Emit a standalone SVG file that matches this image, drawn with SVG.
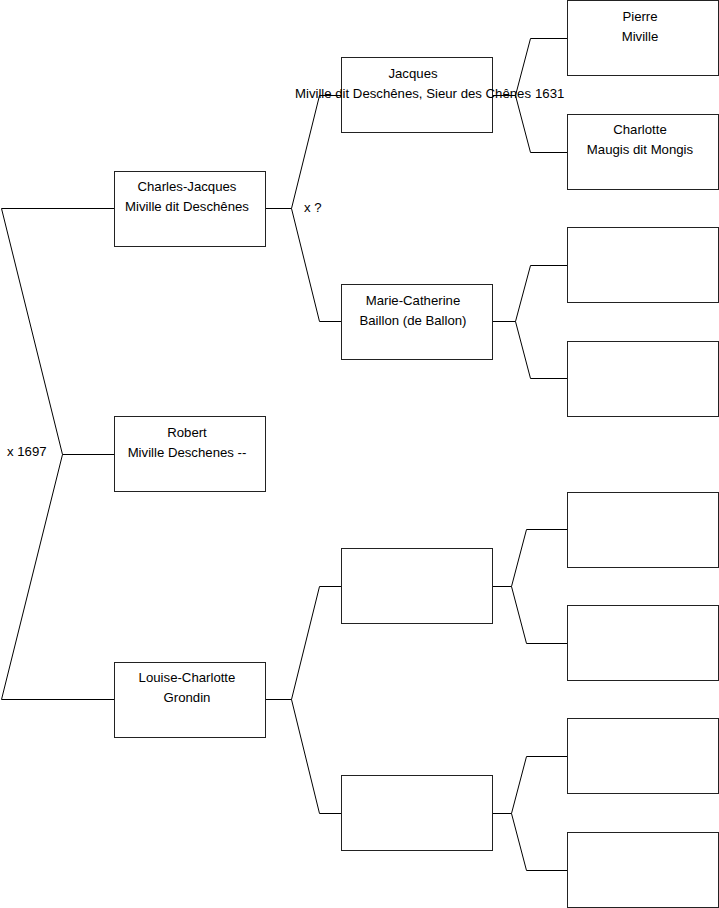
<svg xmlns="http://www.w3.org/2000/svg" width="719" height="908" viewBox="0 0 719 908">
<style>
.box{fill:#fff;stroke:#222;stroke-width:1}
.c{fill:none;stroke:#000;stroke-width:1}
text{font-family:"Liberation Sans",Arial,sans-serif;font-size:13.2px;fill:#000}
.m{text-anchor:middle}
</style>
<rect width="719" height="908" fill="#fff"/>
<g id="connectors">
<path class="c" d="M114.5,208.5H1.5L62.5,454.5L1.5,699.5H114.5M62.5,454.5H114.5"/>
<path class="c" d="M265.5,208.5H291.5M341.5,95.5H319.5L291.5,208.5L319.5,321.5H341.5"/>
<path class="c" d="M265.5,699.5H291.5M341.5,586.5H319.5L291.5,699.5L319.5,813.5H341.5"/>
<path class="c" d="M492.5,95.5H515.5M567.5,38.5H530.5L515.5,95.5L530.5,152.5H567.5"/>
<path class="c" d="M492.5,321.5H515.5M567.5,265.5H530.5L515.5,321.5L530.5,378.5H567.5"/>
<path class="c" d="M492.5,586.5H511.5M567.5,529.5H526.5L511.5,586.5L526.5,643.5H567.5"/>
<path class="c" d="M492.5,813.5H511.5M567.5,756.5H526.5L511.5,813.5L526.5,870.5H567.5"/>
</g>
<g id="labels">
<text x="7" y="456">x 1697</text>
<text x="304" y="212">x ?</text>
<text x="535" y="98">1631</text>
</g>
<g id="charles-jacques"><rect class="box" x="114.5" y="171.5" width="151" height="75"/><text class="m" x="187" y="191">Charles-Jacques</text><text class="m" x="187" y="211">Miville dit Deschênes</text></g>
<g id="robert"><rect class="box" x="114.5" y="416.5" width="151" height="75"/><text class="m" x="187" y="437">Robert</text><text class="m" x="187" y="457">Miville Deschenes --</text></g>
<g id="louise-charlotte"><rect class="box" x="114.5" y="662.5" width="151" height="75"/><text class="m" x="187" y="682">Louise-Charlotte</text><text class="m" x="187" y="702">Grondin</text></g>
<g id="jacques"><rect class="box" x="341.5" y="57.5" width="151" height="75"/><text class="m" x="413" y="78">Jacques</text><text class="m" x="413" y="98">Miville dit Deschênes, Sieur des Chênes</text></g>
<g id="marie-catherine"><rect class="box" x="341.5" y="284.5" width="151" height="75"/><text class="m" x="413" y="305">Marie-Catherine</text><text class="m" x="413" y="325">Baillon (de Ballon)</text></g>
<g id="g2-empty1"><rect class="box" x="341.5" y="548.5" width="151" height="75"/></g>
<g id="g2-empty2"><rect class="box" x="341.5" y="775.5" width="151" height="75"/></g>
<g id="pierre"><rect class="box" x="567.5" y="0.5" width="151" height="75"/><text class="m" x="640" y="21">Pierre</text><text class="m" x="640" y="41">Miville</text></g>
<g id="charlotte"><rect class="box" x="567.5" y="114.5" width="151" height="75"/><text class="m" x="640" y="134">Charlotte</text><text class="m" x="640" y="154">Maugis dit Mongis</text></g>
<g id="g3-e3"><rect class="box" x="567.5" y="227.5" width="151" height="75"/></g>
<g id="g3-e4"><rect class="box" x="567.5" y="341.5" width="151" height="75"/></g>
<g id="g3-e5"><rect class="box" x="567.5" y="492.5" width="151" height="75"/></g>
<g id="g3-e6"><rect class="box" x="567.5" y="605.5" width="151" height="75"/></g>
<g id="g3-e7"><rect class="box" x="567.5" y="718.5" width="151" height="75"/></g>
<g id="g3-e8"><rect class="box" x="567.5" y="832.5" width="151" height="75"/></g>
</svg>
